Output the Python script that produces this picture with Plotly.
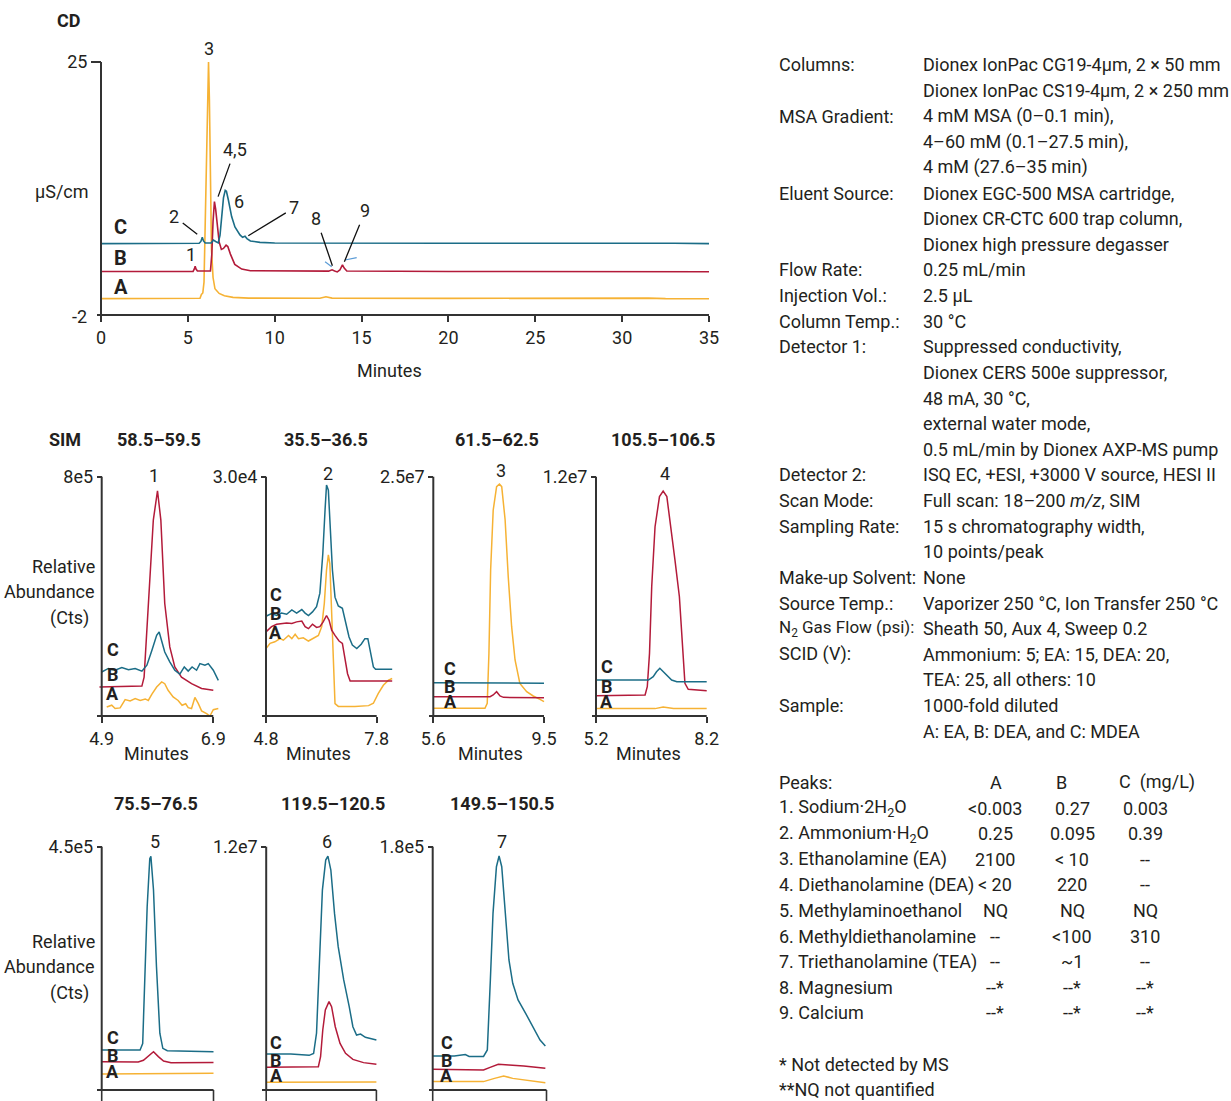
import plotly.graph_objects as go

W, H = 1231, 1101
FONT = "Roboto, 'Liberation Sans', Arial, sans-serif"
TXT = "#231f20"
AX = "#333333"
COL_A = "#f6b234"
COL_B = "#b31b3a"
COL_C = "#1b6d87"
COL_MARK = "#5a9bd6"

# ---------------- DATA ----------------
# CD chromatogram (minutes, µS/cm)
cd_a_t = [0, 5.5, 5.7, 5.78, 5.86, 5.93, 6.0, 6.08, 6.15, 6.19, 6.24, 6.30, 6.36, 6.45, 6.56, 6.8, 7.1, 7.6, 8.5, 12.6, 12.95, 13.3, 20, 31.5, 32.5, 35]
cd_a_v = [-0.25, -0.25, -0.22, 0.2, 0.35, 1.5, 8, 17, 24, 25, 21, 12, 5, 2.0, 0.8, 0.3, 0.05, -0.12, -0.2, -0.22, -0.05, -0.2, -0.23, -0.2, -0.25, -0.27]
cd_b_t = [0, 5.3, 5.38, 5.42, 5.47, 5.55, 6.3, 6.38, 6.45, 6.53, 6.6, 6.7, 6.8, 6.93, 7.05, 7.2, 7.3, 7.45, 7.7, 8.1, 8.6, 13.1, 13.3, 13.45, 13.6, 13.75, 13.9, 14.0, 14.15, 20, 35]
cd_b_v = [2.65, 2.65, 2.95, 3.2, 2.9, 2.7, 2.7, 4.5, 8, 10.1, 9.3, 7.5, 5.8, 5.0, 5.1, 5.45, 5.3, 4.5, 3.4, 2.9, 2.72, 2.68, 2.82, 2.7, 2.6, 2.8, 3.35, 3.0, 2.7, 2.65, 2.62]
cd_c_t = [0, 5.65, 5.75, 5.83, 5.9, 6.0, 6.35, 6.47, 6.6, 6.75, 6.85, 6.95, 7.05, 7.15, 7.22, 7.33, 7.52, 7.71, 8.0, 8.15, 8.29, 8.4, 8.6, 9.15, 10, 20, 31, 32, 33, 35]
cd_c_v = [5.62, 5.65, 5.85, 6.3, 5.9, 5.68, 5.7, 6.0, 5.85, 5.7, 6.5, 8.5, 10.5, 11.3, 11.2, 10.3, 8.5, 7.4, 6.55, 6.3, 6.4, 6.15, 5.9, 5.75, 5.68, 5.65, 5.7, 5.72, 5.65, 5.62]
# small light-blue marker strokes next to peaks 8 and 9 (start/end in minutes, µS/cm)
cd_mark_t = [(12.90, 13.28), (14.05, 14.72)]
cd_mark_v = [(3.69, 3.16), (3.87, 4.12)]

# SIM 58.5–59.5 (peak 1)
p1_a_t = [4.99, 5.08, 5.14, 5.23, 5.32, 5.41, 5.50, 5.59, 5.68, 5.735, 5.80, 5.885, 5.975, 6.03, 6.09, 6.18, 6.27, 6.34, 6.405, 6.45, 6.51, 6.57, 6.63, 6.69, 6.78, 6.84, 6.90, 6.99]
p1_a_v = [30e3, 36e3, 25e3, 27e3, 55e3, 50e3, 58e3, 52e3, 57e3, 52e3, 73e3, 97e3, 114e3, 108e3, 86e3, 64e3, 52e3, 36e3, 41e3, 28e3, 25e3, 62e3, 42e3, 17e3, 8e3, 0, 21e3, 25e3]
p1_b_t = [4.86, 5.62, 5.66, 5.735, 5.825, 5.90, 5.96, 6.03, 6.12, 6.21, 6.33, 6.51, 6.69, 6.90]
p1_b_v = [97e3, 100e3, 130e3, 376e3, 655e3, 753e3, 655e3, 376e3, 231e3, 164e3, 130e3, 108e3, 92e3, 86e3]
p1_c_t = [4.90, 5.02, 5.14, 5.26, 5.38, 5.50, 5.62, 5.71, 5.80, 5.885, 5.93, 5.975, 6.03, 6.12, 6.21, 6.30, 6.38, 6.45, 6.52, 6.60, 6.66, 6.75, 6.81, 6.90, 6.99]
p1_c_v = [147e3, 159e3, 153e3, 162e3, 155e3, 159e3, 150e3, 170e3, 220e3, 270e3, 281e3, 253e3, 214e3, 181e3, 153e3, 140e3, 164e3, 150e3, 164e3, 153e3, 175e3, 170e3, 175e3, 153e3, 119e3]

# SIM 35.5–36.5 (peak 2)
p2_a_t = [4.80, 4.91, 5.04, 5.18, 5.27, 5.41, 5.50, 5.59, 5.68, 5.81, 5.95, 6.08, 6.22, 6.31, 6.38, 6.44, 6.49, 6.53, 6.58, 6.63, 6.67, 6.76, 7.21, 7.58, 7.71, 7.84, 7.98, 8.12, 8.22]
p2_a_v = [8.45e3, 9.1e3, 9.3e3, 9.7e3, 9.5e3, 10.1e3, 9.7e3, 10.25e3, 9.7e3, 9.8e3, 9.4e3, 9.7e3, 10.1e3, 11.2e3, 14.1e3, 18.3e3, 20.2e3, 19.1e3, 12.0e3, 4.9e3, 1.55e3, 1.2e3, 1.2e3, 1.3e3, 1.6e3, 2.8e3, 3.85e3, 4.5e3, 4.7e3]
p2_b_t = [4.80, 4.95, 5.09, 5.22, 5.36, 5.50, 5.63, 5.77, 5.86, 5.95, 6.06, 6.17, 6.26, 6.35, 6.44, 6.51, 6.58, 6.67, 6.78, 6.87, 6.94, 7.01, 7.08, 7.21, 8.22]
p2_b_v = [10.55e3, 11.2e3, 11.5e3, 11.6e3, 11.65e3, 11.6e3, 11.8e3, 11.9e3, 11.2e3, 10.95e3, 11.5e3, 11.1e3, 11.2e3, 11.8e3, 12.6e3, 12.0e3, 10.75e3, 10.1e3, 9.4e3, 9.1e3, 7.4e3, 5.3e3, 4.4e3, 4.4e3, 4.4e3]
p2_c_t = [4.80, 4.95, 5.09, 5.22, 5.36, 5.50, 5.63, 5.77, 5.86, 5.95, 6.06, 6.17, 6.26, 6.34, 6.40, 6.44, 6.49, 6.53, 6.60, 6.67, 6.76, 6.87, 6.96, 7.05, 7.14, 7.26, 7.38, 7.48, 7.56, 7.62, 7.71, 7.77, 7.98, 8.22]
p2_c_v = [12.5e3, 12.85e3, 12.6e3, 12.9e3, 12.75e3, 13.3e3, 12.9e3, 13.35e3, 12.9e3, 12.6e3, 13.05e3, 13.7e3, 15.4e3, 20.4e3, 25.8e3, 28.95e3, 28.3e3, 24.6e3, 18.3e3, 14.9e3, 13.8e3, 13.5e3, 11.6e3, 9.9e3, 8.9e3, 8.45e3, 9.0e3, 9.7e3, 9.7e3, 8.25e3, 6.15e3, 5.85e3, 5.85e3, 5.85e3]

# SIM 61.5–62.5 (peak 3)
p3_a_t = [5.6, 7.42, 7.50, 7.56, 7.62, 7.71, 7.83, 7.93, 8.01, 8.13, 8.24, 8.36, 8.48, 8.65, 8.89, 9.12, 9.36, 9.50]
p3_a_v = [0.8e6, 0.8e6, 1.33e6, 6.55e6, 15.25e6, 21.5e6, 23.96e6, 24.24e6, 23.96e6, 20.5e6, 14.55e6, 9.33e6, 5.85e6, 3.41e6, 2.54e6, 2.09e6, 1.74e6, 1.5e6]
p3_b_t = [5.6, 7.60, 7.71, 7.83, 7.95, 8.07, 9.5]
p3_b_v = [2.02e6, 2.02e6, 2.2e6, 2.54e6, 2.1e6, 1.95e6, 1.9e6]
p3_c_t = [5.6, 7.5, 9.5]
p3_c_v = [3.48e6, 3.46e6, 3.42e6]

# SIM 105.5–106.5 (peak 4)
p4_a_t = [5.2, 6.8, 7.02, 7.3, 8.2]
p4_a_v = [0.37e6, 0.37e6, 0.45e6, 0.38e6, 0.37e6]
p4_b_t = [5.2, 6.53, 6.59, 6.65, 6.71, 6.80, 6.92, 7.02, 7.12, 7.22, 7.34, 7.46, 7.55, 7.61, 7.70, 8.2]
p4_b_v = [1.02e6, 1.05e6, 1.47e6, 3.14e6, 6.49e6, 9.49e6, 11.0e6, 11.28e6, 11.0e6, 9.66e6, 7.82e6, 5.98e6, 3.48e6, 1.64e6, 1.34e6, 1.27e6]
p4_c_t = [5.2, 6.62, 6.75, 6.84, 6.93, 7.02, 7.12, 7.25, 7.39, 8.2]
p4_c_v = [1.805e6, 1.8e6, 1.97e6, 2.22e6, 2.39e6, 2.22e6, 2.0e6, 1.805e6, 1.72e6, 1.72e6]

# SIM 75.5–76.5 (peak 5)
p5_a_t = [5.2, 6.5, 8.2]
p5_a_v = [29.6e3, 30.5e3, 30.8e3]
p5_b_t = [5.2, 6.18, 6.32, 6.47, 6.59, 6.72, 6.86, 7.06, 8.2]
p5_b_v = [52.4e3, 52e3, 55e3, 64.7e3, 70.9e3, 61.7e3, 53.6e3, 50.6e3, 51e3]
p5_c_t = [5.2, 6.23, 6.30, 6.35, 6.42, 6.49, 6.52, 6.59, 6.67, 6.76, 6.84, 6.96, 8.2]
p5_c_v = [74e3, 74e3, 86e3, 203e3, 339e3, 428e3, 432e3, 370e3, 228e3, 105e3, 77e3, 72.7e3, 70.9e3]

# SIM 119.5–120.5 (peak 6)
p6_a_t = [5.5, 7.0, 8.5]
p6_a_v = [0.38e6, 0.40e6, 0.40e6]
p6_b_t = [5.5, 6.77, 6.92, 6.98, 7.04, 7.11, 7.21, 7.28, 7.38, 7.51, 7.66, 7.86, 8.15, 8.50]
p6_b_v = [1.12e6, 1.12e6, 1.15e6, 1.64e6, 2.96e6, 3.95e6, 4.36e6, 4.11e6, 3.12e6, 2.3e6, 1.81e6, 1.51e6, 1.35e6, 1.27e6]
p6_c_t = [5.5, 6.17, 6.67, 6.79, 6.87, 6.95, 7.03, 7.12, 7.18, 7.26, 7.36, 7.46, 7.61, 7.76, 7.86, 7.96, 8.07, 8.20, 8.35, 8.50]
p6_c_v = [1.776e6, 1.776e6, 1.71e6, 1.8e6, 2.8e6, 6.25e6, 9.86e6, 11.34e6, 11.54e6, 10.85e6, 8.71e6, 7.07e6, 5.43e6, 4.11e6, 3.12e6, 2.71e6, 2.76e6, 2.6e6, 2.55e6, 2.47e6]

# SIM 149.5–150.5 (peak 7)
p7_a_t = [6.5, 7.84, 8.13, 8.37, 8.61, 8.99, 9.47]
p7_a_v = [6.2e3, 6.2e3, 8.6e3, 10.4e3, 8.6e3, 7.4e3, 5.4e3]
p7_b_t = [6.5, 7.84, 8.03, 8.23, 8.51, 8.90, 9.47]
p7_b_v = [15.3e3, 14.8e3, 16.9e3, 19e3, 18.5e3, 17.8e3, 16e3]
p7_c_t = [6.5, 7.07, 7.36, 7.46, 7.84, 7.94, 8.02, 8.09, 8.18, 8.25, 8.32, 8.42, 8.51, 8.61, 8.75, 8.95, 9.14, 9.33, 9.47]
p7_c_v = [25.2e3, 25.2e3, 26.2e3, 24.8e3, 24.8e3, 29.6e3, 81.4e3, 130.7e3, 165.2e3, 173.1e3, 165.2e3, 125.8e3, 96.2e3, 78.9e3, 66.6e3, 56.7e3, 46.8e3, 37e3, 32.6e3]

# Panel titles, tick values and labels
sim_titles = ["58.5–59.5", "35.5–36.5", "61.5–62.5", "105.5–106.5", "75.5–76.5", "119.5–120.5", "149.5–150.5"]
sim_peaks = ["1", "2", "3", "4", "5", "6", "7"]
sim_xticks = [(4.9, 6.9), (4.8, 7.8), (5.6, 9.5), (5.2, 8.2), (5.2, 8.2), (5.5, 8.5), (6.5, 9.5)]
sim_ymax = [8e5, 3.0e4, 2.5e7, 1.2e7, 4.5e5, 1.2e7, 1.8e5]
sim_ylabels = ["8e5", "3.0e4", "2.5e7", "1.2e7", "4.5e5", "1.2e7", "1.8e5"]
cd_xticks = [0, 5, 10, 15, 20, 25, 30, 35]
cd_yticks = [-2, 25]

# Conditions text
cond_labels = ["Columns:", "", "MSA Gradient:", "", "", "Eluent Source:", "", "", "Flow Rate:",
               "Injection Vol.:", "Column Temp.:", "Detector 1:", "", "", "", "", "Detector 2:",
               "Scan Mode:", "Sampling Rate:", "", "Make-up Solvent:", "Source Temp.:",
               "N<sub>2</sub> Gas Flow (psi):", "SCID (V):", "", "Sample:", ""]
cond_values = ["Dionex IonPac CG19-4µm, 2 × 50 mm", "Dionex IonPac CS19-4µm, 2 × 250 mm",
               "4 mM MSA (0–0.1 min),", "4–60 mM (0.1–27.5 min),", "4 mM (27.6–35 min)",
               "Dionex EGC-500 MSA cartridge,", "Dionex CR-CTC 600 trap column,",
               "Dionex high pressure degasser", "0.25 mL/min", "2.5 µL", "30 °C",
               "Suppressed conductivity,", "Dionex CERS 500e suppressor,", "48 mA, 30 °C,",
               "external water mode,", "0.5 mL/min by Dionex AXP-MS pump",
               "ISQ EC, +ESI, +3000 V source, HESI II", "Full scan: 18–200 <i>m/z</i>, SIM",
               "15 s chromatography width,", "10 points/peak", "None",
               "Vaporizer 250 °C, Ion Transfer 250 °C", "Sheath 50, Aux 4, Sweep 0.2",
               "Ammonium: 5; EA: 15, DEA: 20,", "TEA: 25, all others: 10", "1000-fold diluted",
               "A: EA, B: DEA, and C: MDEA"]

peak_names = ["1. Sodium·2H<sub>2</sub>O", "2. Ammonium·H<sub>2</sub>O", "3. Ethanolamine (EA)",
              "4. Diethanolamine (DEA)", "5. Methylaminoethanol", "6. Methyldiethanolamine",
              "7. Triethanolamine (TEA)", "8. Magnesium", "9. Calcium"]
conc_a = ["<0.003", "0.25", "2100", "< 20", "NQ", "--", "--", "--*", "--*"]
conc_b = ["0.27", "0.095", "< 10", "220", "NQ", "<100", "~1", "--*", "--*"]
conc_c = ["0.003", "0.39", "--", "--", "NQ", "310", "--", "--*", "--*"]
footnotes = ["* Not detected by MS", "**NQ not quantified"]

# ---------------- LAYOUT HELPERS ----------------
def lin(v0, p0, v1, p1, p):
    return v0 + (p - p0) * (v1 - v0) / (p1 - p0)

def xdom(p0, p1):
    return [p0 / W, p1 / W]

def ydom(ptop, pbot):
    return [1 - pbot / H, 1 - ptop / H]

def font(size=18, color=TXT):
    return dict(family=FONT, size=size, color=color)

annotations = []
shapes = []

def ann(px, py, text, size=18, bold=False, xanchor="center", yanchor="middle", color=TXT):
    annotations.append(dict(x=px / W, y=1 - py / H, xref="paper", yref="paper",
                            text=("<b>%s</b>" % text) if bold else text, showarrow=False,
                            font=font(size, color), xanchor=xanchor, yanchor=yanchor))

fig = go.Figure()
layout = dict(template="none", width=W, height=H, margin=dict(l=0, r=0, t=0, b=0, pad=0),
              autosize=False, paper_bgcolor="white", plot_bgcolor="rgba(0,0,0,0)",
              showlegend=False, font=font())

def add_panel(idx, xt, xp, yv, yp, xdp, ydp, xtickvals, xticktext, xlen, ylen, ytickvals,
              yticktext, show_xlabels=True):
    """xt=(t0,t1) axis ends at pixels xp; yv=(v0,v1) axis ends at pixels yp."""
    xs = "" if idx == 1 else str(idx)
    xr = [lin(xt[0], xp[0], xt[1], xp[1], xdp[0]), lin(xt[0], xp[0], xt[1], xp[1], xdp[1])]
    yr = [lin(yv[0], yp[0], yv[1], yp[1], ydp[1]), lin(yv[0], yp[0], yv[1], yp[1], ydp[0])]
    xref, yref = "x" + xs, "y" + xs
    xaxis = dict(domain=xdom(*xdp), range=xr, anchor="free", position=1 - yp[0] / H,
                 showline=False, showgrid=False, zeroline=False, automargin=False,
                 fixedrange=True, tickfont=font(18))
    if show_xlabels:
        xaxis.update(tickmode="array", tickvals=xtickvals, ticktext=xticktext, ticks="outside",
                     ticklen=xlen, tickwidth=1.6, tickcolor=AX)
    else:
        # tick labels fall below the picture edge: draw only the tick marks
        xaxis.update(showticklabels=False, ticks="")
        for tv in xtickvals:
            shapes.append(dict(type="line", xref=xref, yref="paper", x0=tv, x1=tv,
                               y0=1 - yp[0] / H, y1=1 - (yp[0] + xlen) / H,
                               line=dict(color=AX, width=1.6)))
    layout["xaxis" + xs] = xaxis
    layout["yaxis" + xs] = dict(domain=ydom(*ydp), range=yr, anchor="free", position=xp[0] / W,
                                showline=False, showgrid=False, zeroline=False, automargin=False,
                                tickmode="array", tickvals=ytickvals, ticktext=yticktext,
                                ticks="outside", ticklen=ylen, tickwidth=1.6, tickcolor=AX,
                                tickfont=font(18), fixedrange=True)
    # axis lines; the x line starts one tick-length left of the y axis (overhang as in the original)
    x_start = lin(xt[0], xp[0], xt[1], xp[1], xp[0] - ylen)
    shapes.append(dict(type="line", xref=xref, yref=yref, x0=x_start, x1=xt[1], y0=yv[0], y1=yv[0],
                       line=dict(color=AX, width=2)))
    shapes.append(dict(type="line", xref=xref, yref=yref, x0=xt[0], x1=xt[0], y0=yv[0], y1=yv[1],
                       line=dict(color=AX, width=2)))
    return xref, yref

def add_lines(xref, yref, series, width=1.5):
    for t, v, c in series:
        fig.add_trace(go.Scatter(x=t, y=v, mode="lines", xaxis=xref, yaxis=yref,
                                 line=dict(color=c, width=width), hoverinfo="skip"))

# ---- CD panel ----
xr, yr = add_panel(1, (0, 35), (101, 709), (-2, 25), (315, 62), (97, 716), (50, 322),
                   cd_xticks, [str(v) for v in cd_xticks], 6, 10, [25], ["25"])
add_lines(xr, yr, [(cd_a_t, cd_a_v, COL_A), (cd_b_t, cd_b_v, COL_B), (cd_c_t, cd_c_v, COL_C)], 1.6)
for t, v in zip(cd_mark_t, cd_mark_v):
    fig.add_trace(go.Scatter(x=list(t), y=list(v), mode="lines", xaxis=xr, yaxis=yr,
                             line=dict(color=COL_MARK, width=1.2), hoverinfo="skip"))
ann(79, 316, "-2", 18, xanchor="center")

ann(68, 20, "CD", 18, True)
ann(62, 191, "µS/cm", 18)
ann(389, 370, "Minutes", 18)
ann(120.5, 227, "C", 20, True)
ann(120.5, 258, "B", 20, True)
ann(120.5, 287, "A", 20, True)
ann(208.5, 49, "3", 18)
ann(191, 255, "1", 18)
ann(238.5, 201, "6", 18)
# callout labels with leader lines (text offset in px from the pointed location)
callouts = [("2", 5.54, 6.61, -23, -18), ("4,5", 6.74, 10.63, 17, -47),
            ("7", 8.48, 6.46, 46, -28), ("8", 13.32, 3.26, -16, -47), ("9", 14.01, 3.69, 21, -51)]
for txt, t, v, dx, dy in callouts:
    annotations.append(dict(x=t, y=v, xref="x", yref="y", text=txt, showarrow=True, arrowhead=0,
                            arrowwidth=1.3, arrowcolor="#111", ax=dx, ay=dy, borderpad=3,
                            font=font(18)))

# ---- SIM panels ----
row1_y = (716, 476.7)
row2_y = (1090, 846.7)
panel_geo = [
    ((101.7, 213.3), (97, 222), row1_y, (468, 724)),
    ((266, 376.7), (262, 398), row1_y, (468, 724)),
    ((433.3, 544), (429, 548), row1_y, (468, 724)),
    ((596, 706.7), (592, 710), row1_y, (468, 724)),
    ((101.7, 213.5), (97, 217), row2_y, (838, 1098)),
    ((266.2, 376.4), (262, 380), row2_y, (838, 1098)),
    ((432.7, 546.5), (429, 550), row2_y, (838, 1098)),
]
sim_series = [
    [(p1_a_t, p1_a_v, COL_A), (p1_b_t, p1_b_v, COL_B), (p1_c_t, p1_c_v, COL_C)],
    [(p2_a_t, p2_a_v, COL_A), (p2_b_t, p2_b_v, COL_B), (p2_c_t, p2_c_v, COL_C)],
    [(p3_a_t, p3_a_v, COL_A), (p3_b_t, p3_b_v, COL_B), (p3_c_t, p3_c_v, COL_C)],
    [(p4_a_t, p4_a_v, COL_A), (p4_b_t, p4_b_v, COL_B), (p4_c_t, p4_c_v, COL_C)],
    [(p5_a_t, p5_a_v, COL_A), (p5_b_t, p5_b_v, COL_B), (p5_c_t, p5_c_v, COL_C)],
    [(p6_a_t, p6_a_v, COL_A), (p6_b_t, p6_b_v, COL_B), (p6_c_t, p6_c_v, COL_C)],
    [(p7_a_t, p7_a_v, COL_A), (p7_b_t, p7_b_v, COL_B), (p7_c_t, p7_c_v, COL_C)],
]
title_pos = [(159.3, 439), (326, 439), (496.7, 439), (663.3, 439), (156.4, 803), (332.7, 803), (501.8, 803)]
peak_pos = [(154, 476), (327.5, 473), (500.5, 470), (664.5, 473), (154.5, 841), (327, 841), (501.8, 841)]
abc_pos = [((112.5, 650), (112.5, 674), (112.5, 693)),
           ((275.5, 594), (275.5, 613), (275.5, 632)),
           ((450.5, 668), (450.5, 686), (450.5, 701)),
           ((606.5, 666), (606.5, 686), (606.5, 701)),
           ((112.7, 1037), (112.7, 1055), (112.7, 1071)),
           ((276.4, 1042), (276.4, 1060), (276.4, 1075)),
           ((446.5, 1042), (446.5, 1060), (446.5, 1075))]
minutes_x = [156, 318.3, 490.7, 648.3]

for i in range(7):
    xp, xdp, yp, ydp = panel_geo[i]
    row1 = i < 4
    xr, yr = add_panel(i + 2, sim_xticks[i], xp, (0, sim_ymax[i]), yp, xdp, ydp,
                       list(sim_xticks[i]), [str(v) for v in sim_xticks[i]], 6 if row1 else 12, 5,
                       [sim_ymax[i]], [sim_ylabels[i]], show_xlabels=row1)
    add_lines(xr, yr, sim_series[i], 1.5)
    ann(title_pos[i][0], title_pos[i][1], sim_titles[i], 18, True)
    ann(peak_pos[i][0], peak_pos[i][1], sim_peaks[i], 18)
    for (px, py), lab in zip(abc_pos[i], ["C", "B", "A"]):
        ann(px, py, lab, 18, True)
    if row1:
        ann(minutes_x[i], 753, "Minutes", 18)

ann(65, 439, "SIM", 18, True)
for yy in (0, 375):
    ann(96.7, 566.7 + yy, "Relative", 18, xanchor="right")
    ann(96.7, 591.7 + yy, "Abundance", 18, xanchor="right")
    ann(90.8, 618 + yy, "(Cts)", 18, xanchor="right")

# ---- Conditions text ----
for k, (lab, val) in enumerate(zip(cond_labels, cond_values)):
    y = 65 + 25.62 * k
    if lab:
        ann(777, y, lab, 17 if "<sub>" in lab else 18, xanchor="left")
    ann(921, y, val, 18, xanchor="left")

# ---- Peaks table ----
ann(777, 782, "Peaks:", 18, xanchor="left")
ann(996, 782, "A", 18)
ann(1061, 782, "B", 18)
ann(1117, 782, "C  (mg/L)", 18, xanchor="left")
esc = lambda s: s.replace("<", "&lt;")
for k in range(len(peak_names)):
    y = 808 + 25.6 * k
    ann(777, y, peak_names[k], 18, xanchor="left")
    ann(995, y, esc(conc_a[k]), 18)
    ann(1072, y, esc(conc_b[k]), 18)
    ann(1145, y, esc(conc_c[k]), 18)
ann(777, 1064, footnotes[0], 18, xanchor="left")
ann(777, 1089, footnotes[1], 18, xanchor="left")

layout["annotations"] = annotations
layout["shapes"] = shapes
fig.update_layout(**layout)
fig.write_html("out.html", config={"responsive": False, "displayModeBar": False},
               post_script="document.body.style.margin='0';document.body.style.overflow='hidden';")
